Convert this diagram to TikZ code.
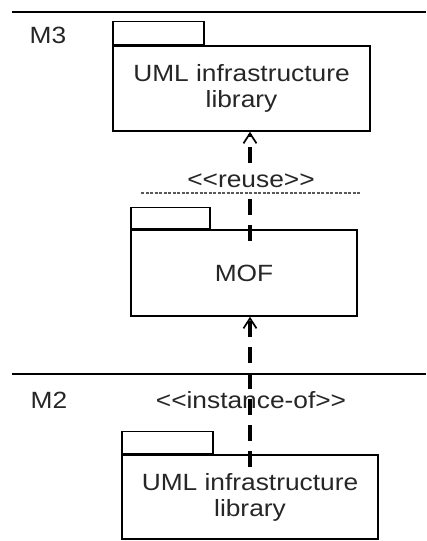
\documentclass[tikz,border=0pt]{standalone}
\usepackage{fontspec}
\newfontfamily\umlfont{Liberation Sans}[FakeStretch=1.12]
\usepackage{tikz}
\usetikzlibrary{arrows.meta,positioning,calc}

\begin{document}
\begin{tikzpicture}[
  x=1pt, y=-1pt,
  font=\umlfont\fontsize{23.5}{26}\selectfont,
  pkg/.style={draw, line width=1.6pt, align=center, inner sep=0pt, minimum width=#1},
  pkg/.default=256pt,
  tab/.style={draw, line width=1.6pt, inner sep=0pt, minimum width=#1, minimum height=23pt, anchor=south west},
  tab/.default=91pt,
  lvl/.style={line width=1.4pt},
  dep/.style={line width=3.2pt, dash pattern=on 16pt off 10pt, -{Straight Barb[length=10pt, width=13pt, line width=1.7pt]}},
  stereo/.style={fill=white, inner sep=1pt, text=black!85},
]
\useasboundingbox (0,0) rectangle (426,541);

% level separators
\draw[lvl] (12,12) -- (426,12);
\draw[lvl] (12,374) -- (426,374);
\node[text=black!85] (m3) at (48,35) {M3};
\node[text=black!85] (m2) at (49,400) {M2};

% M3 packages
\node[pkg=257pt, minimum height=85pt, text=black!85] (uml3) at (241.5,88.5) {UML infrastructure\\library};
\node[tab] (uml3tab) at (uml3.north west) {};
\node[pkg=226pt, minimum height=86pt, text=black!85] (mof) at (244,273) {MOF};
\node[tab=79pt, minimum height=21pt] (moftab) at (mof.north west) {};

% M2 package
\node[pkg=256pt, minimum height=84pt, text=black!85] (uml2) at (250,497) {UML infrastructure\\library};
\node[tab, minimum height=22pt] (uml2tab) at (uml2.north west) {};

% dependencies
\coordinate (r1) at ($(mof.north -| uml2.north)+(0,12)$);
\coordinate (r2) at ($(uml2.north)+(0,13)$);
\draw[dep] (r1) -- (uml3.south -| r1);
\node[stereo] (reuse) at (251,181) {<<reuse>>};
\draw[dash pattern=on 3pt off 1.5pt, line width=1.2pt, black!65] (141,193) -- (360,193);
\draw[dep] (r2) -- (mof.south -| r2);
\node[text=black!85] (inst) at (251,400) {<<instance-of>>};
\end{tikzpicture}
\end{document}
